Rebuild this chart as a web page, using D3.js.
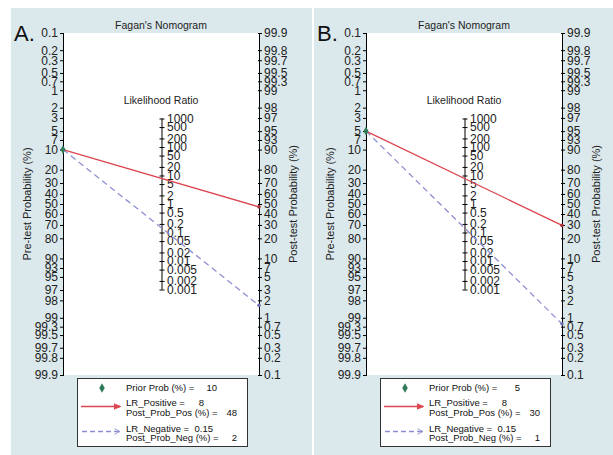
<!DOCTYPE html>
<html><head><meta charset="utf-8">
<script src="https://cdn.jsdelivr.net/npm/d3@7"></script>
<style>
html,body{margin:0;padding:0;background:#fff;}
svg text{font-family:"Liberation Sans",Arial,sans-serif;}
</style></head>
<body>
<svg id="chart" width="613" height="455"></svg>
<script>
// ---- data ----
const panelLabels = ["A.", "B."];
const priorProb = [10, 5];
const lrPositive = [8, 8];
const lrNegative = [0.15, 0.15];
const postProbPos = [48, 30];
const postProbNeg = [2, 1];
const preTicks = [0.1,0.2,0.3,0.5,0.7,1,2,3,5,7,10,20,30,40,50,60,70,80,90,93,95,97,98,99,99.3,99.5,99.7,99.8,99.9];
const postTicks = [99.9,99.8,99.7,99.5,99.3,99,98,97,95,93,90,80,70,60,50,40,30,20,10,7,5,3,2,1,0.7,0.5,0.3,0.2,0.1];
const lrTicks = [1000,500,200,100,50,20,10,5,2,1,0.5,0.2,0.1,0.05,0.02,0.01,0.005,0.002,0.001];

(function(){
const svg = d3.select("#chart");
const logit = p => Math.log((p/100)/(1-p/100));
const L = logit(99.9);
const yTop = 33, yBot = 375, xL = 63, xR = 259, xM = 162;
const bg = "#dce9ec";
const red = "#dc4650", blue = "#8e8ed2", green = "#2f7a58";

const preScale = d3.scaleLinear().domain([-L, L]).range([yTop, yBot]);
const postScale = d3.scaleLinear().domain([L, -L]).range([yTop, yBot]);
const lrScale = d3.scaleLog().domain([Math.exp(-2*L), Math.exp(2*L)]).range([yBot, yTop]);

const defs = svg.append("defs");
function arrow(id, color, open){
  const m = defs.append("marker").attr("id", id).attr("viewBox","0 0 10 10")
    .attr("refX",9).attr("refY",5).attr("markerWidth",7).attr("markerHeight",7)
    .attr("markerUnits","userSpaceOnUse").attr("orient","auto");
  m.append("path").attr("d", open ? "M1,1 L9,5 L1,9" : "M0,1 L10,5 L0,9 Z")
    .attr("fill", open ? "none" : color).attr("stroke", color).attr("stroke-width", 1.2);
}
arrow("arR", red, false); arrow("arB", blue, true);

const panelX = [11, 314];
const offX = [0, 303];

panelLabels.forEach((lab, i) => {
  const g = svg.append("g").attr("transform", `translate(${offX[i]},0)`);
  g.append("rect").attr("x", panelX[i]-offX[i]).attr("y", 8).attr("width", i===0 ? 301 : 300).attr("height", 447).attr("fill", bg);
  g.append("rect").attr("x", xL).attr("y", yTop).attr("width", xR-xL).attr("height", yBot-yTop).attr("fill", "#fff");

  g.append("text").attr("x", 14).attr("y", 41).attr("font-size", 22).attr("fill", "#111").text(lab);
  g.append("text").attr("x", (xL+xR)/2).attr("y", 29).attr("text-anchor","middle").attr("font-size", 10.5).attr("fill","#222").text("Fagan's Nomogram");
  g.append("text").attr("x", xM-1).attr("y", 104).attr("text-anchor","middle").attr("font-size", 10.5).attr("fill","#222").text("Likelihood Ratio");

  const fmt = d => String(d);
  const la = g.append("g").attr("transform", `translate(${xL},0)`)
    .call(d3.axisLeft(preScale).tickValues(preTicks.map(logit)).tickFormat((d,j)=>fmt(preTicks[j])).tickSizeInner(3).tickSizeOuter(0).tickPadding(2));
  const ra = g.append("g").attr("transform", `translate(${xR},0)`)
    .call(d3.axisRight(postScale).tickValues(postTicks.map(logit)).tickFormat((d,j)=>fmt(postTicks[j])).tickSizeInner(3).tickSizeOuter(0).tickPadding(2));
  const ma = g.append("g").attr("transform", `translate(${xM},0)`)
    .call(d3.axisRight(lrScale).tickValues(lrTicks).tickFormat(fmt).tickSizeInner(3).tickSizeOuter(0).tickPadding(2));
  ma.select(".domain").remove();
  ma.append("line").attr("x1",0).attr("x2",0).attr("y1",lrScale(1000)).attr("y2",lrScale(0.001)).attr("stroke","#000");
  ma.selectAll(".tick line").attr("x1",-2.5).attr("x2",2.5);
  [la, ra, ma].forEach(a => {
    a.selectAll("text").attr("font-size", 12).attr("fill", "#222").attr("font-family", "Liberation Sans, Arial, sans-serif");
    a.selectAll(".domain").attr("stroke", "#000");
    a.selectAll(".tick line").attr("stroke", "#000");
  });
  la.selectAll(".tick line").attr("x2",-3).attr("x1",1);
  ra.selectAll(".tick line").attr("x2",3).attr("x1",-1);

  g.append("text").attr("transform", `translate(31,204) rotate(-90)`).attr("text-anchor","middle").attr("font-size", 11).attr("fill","#222").text("Pre-test Probability (%)");
  g.append("text").attr("transform", `translate(297,204) rotate(-90)`).attr("text-anchor","middle").attr("font-size", 11).attr("fill","#222").text("Post-test Probability (%)");

  const yPre = preScale(logit(priorProb[i]));
  const line = (lr, color, dash, dotColor) => {
    const yMid = lrScale(lr);
    const yEnd = 2*yMid - yPre;
    g.append("line").attr("x1", xL).attr("y1", yPre).attr("x2", xR).attr("y2", yEnd)
      .attr("stroke", color).attr("stroke-width", 1.3).attr("stroke-dasharray", dash);
    g.append("circle").attr("cx", xR).attr("cy", yEnd).attr("r", 1.8).attr("fill", dotColor);
  };
  line(lrNegative[i], blue, "6,4", "#7070b0");
  line(lrPositive[i], red, null, "#a83038");
  g.append("path").attr("d", d3.symbol(d3.symbolDiamond, 22)()).attr("transform", `translate(${xL},${yPre})`).attr("fill", green);

  const lg = g.append("g");
  lg.append("rect").attr("x", 77.5).attr("y", 378.5).attr("width", 170).attr("height", 68).attr("fill", "#fff").attr("stroke", "#333").attr("stroke-width", 1);
  lg.append("path").attr("d", d3.symbol(d3.symbolDiamond, 26)()).attr("transform", "translate(102,388)").attr("fill", green);
  lg.append("line").attr("x1", 81).attr("x2", 120).attr("y1", 406.5).attr("y2", 406.5).attr("stroke", red).attr("stroke-width", 1.3).attr("marker-end","url(#arR)");
  lg.append("line").attr("x1", 82).attr("x2", 120).attr("y1", 431.5).attr("y2", 431.5).attr("stroke", blue).attr("stroke-width", 1.3).attr("stroke-dasharray","5,3").attr("marker-end","url(#arB)");
  const rows = [
    ["Prior Prob (%) =", priorProb[i], 391, 217],
    ["LR_Positive =", lrPositive[i], 406, 204],
    ["Post_Prob_Pos (%) =", postProbPos[i], 416, 237],
    ["LR_Negative =", lrNegative[i], 432, 213],
    ["Post_Prob_Neg (%) =", postProbNeg[i], 441, 237]
  ];
  rows.forEach(r => {
    lg.append("text").attr("x", 126).attr("y", r[2]).attr("font-size", 9.5).attr("fill", "#111").text(r[0]);
    lg.append("text").attr("x", r[3]).attr("y", r[2]).attr("text-anchor","end").attr("font-size", 9.5).attr("fill", "#111").text(String(r[1]));
  });
});
})();
</script>
</body></html>
